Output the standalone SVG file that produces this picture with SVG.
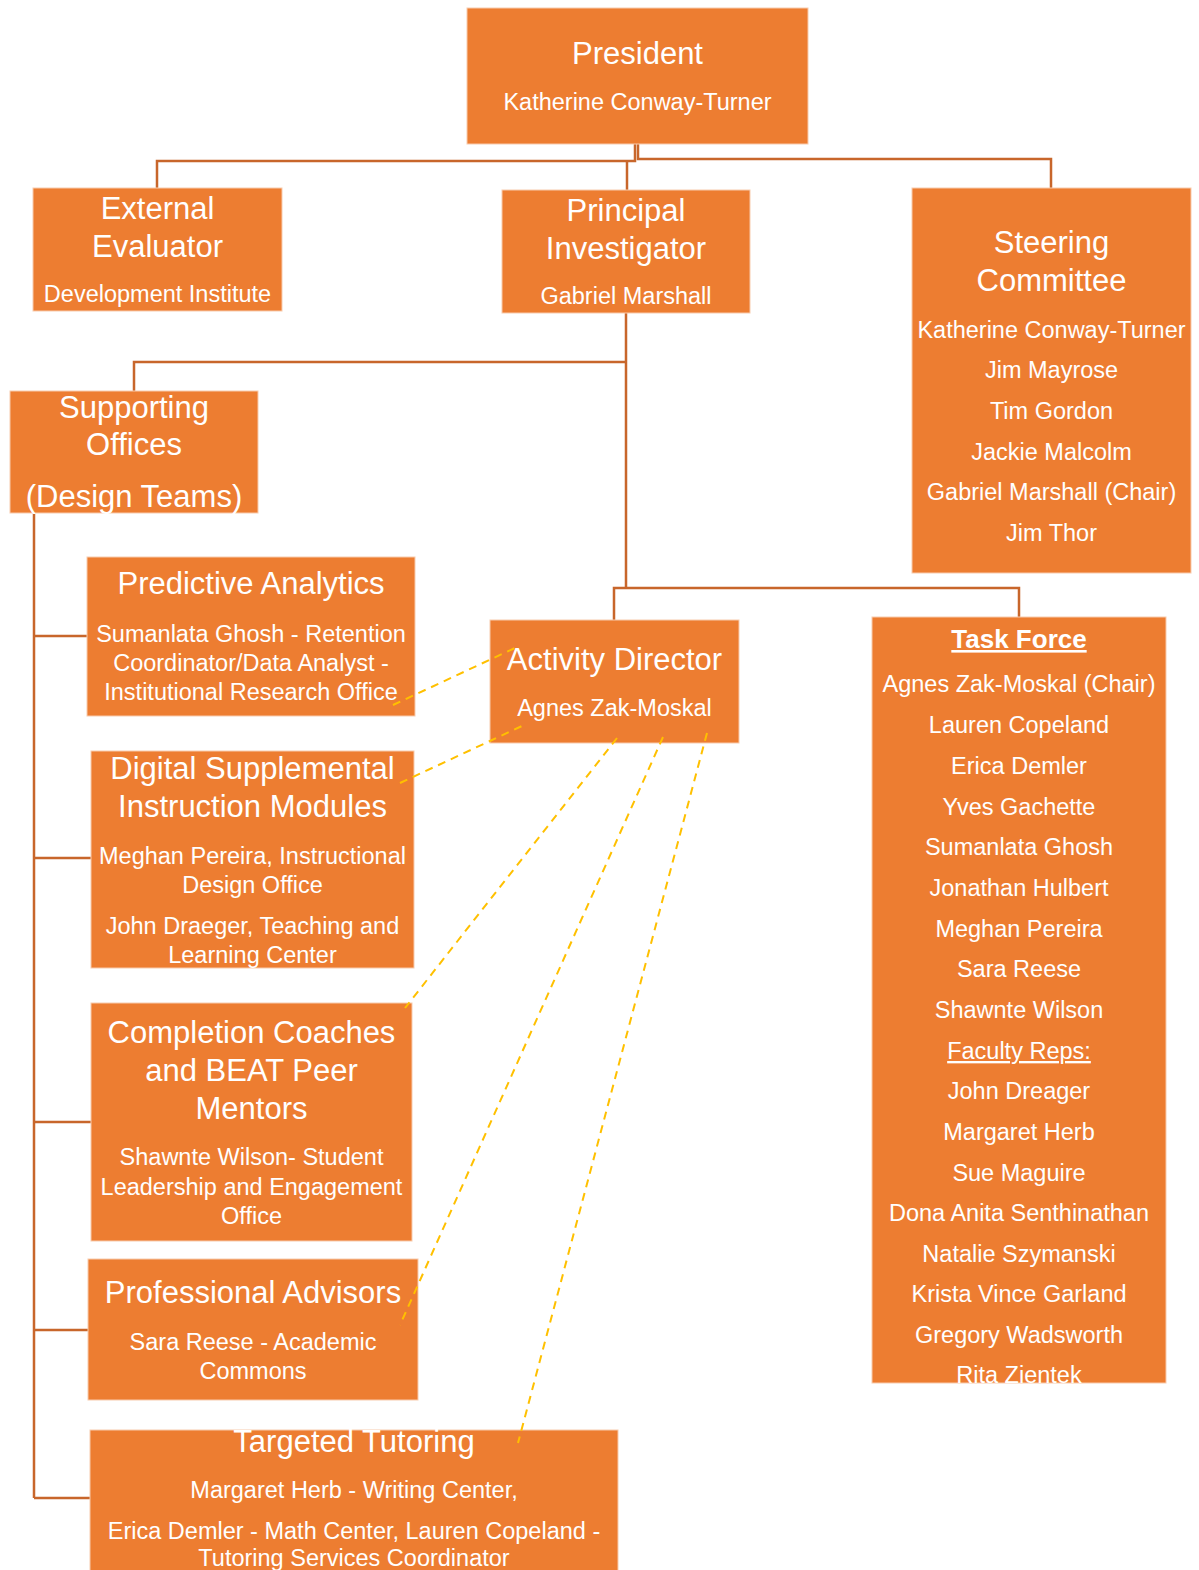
<svg xmlns="http://www.w3.org/2000/svg" width="1199" height="1570" viewBox="0 0 1199 1570">
<style>
.box{fill:#ED7D31;stroke:#F8CBAD;stroke-width:1}
.t{font-family:"Liberation Sans",Arial,sans-serif;font-size:31px;fill:#fff;text-anchor:middle}
.s{font-family:"Liberation Sans",Arial,sans-serif;font-size:23.5px;fill:#fff;text-anchor:middle}
.b{font-family:"Liberation Sans",Arial,sans-serif;font-size:26px;font-weight:bold;fill:#fff;text-anchor:middle;text-decoration:underline}
.u{text-decoration:underline}
.ln{fill:none;stroke:#C8662B;stroke-width:2.5}
.dl{fill:none;stroke:#FFC000;stroke-width:2;stroke-dasharray:8,6}
</style>
<rect width="1199" height="1570" fill="#fff"/>
<g id="connectors">
<path class="ln" d="M635,144 V161 H157 V188"/>
<path class="ln" d="M638,144 V159 H1051 V188"/>
<path class="ln" d="M627,161 V190"/>
<path class="ln" d="M626,313 V588"/>
<path class="ln" d="M626,362 H134 V391"/>
<path class="ln" d="M614,620 V588 H1019 V617"/>
<path class="ln" d="M34,513 V1498"/>
<path class="ln" d="M34,636 H87 M34,858 H91 M34,1122 H91 M34,1330 H88 M34,1498 H90"/>
</g>
<g id="president">
<rect class="box" x="467" y="8" width="341" height="136"/>
<text class="t" x="637.5" y="64">President</text>
<text class="s" x="637.5" y="110">Katherine Conway-Turner</text>
</g>
<g id="external-evaluator">
<rect class="box" x="33" y="188" width="249" height="123"/>
<text class="t" x="157.5" y="219">External</text>
<text class="t" x="157.5" y="257">Evaluator</text>
<text class="s" x="157.5" y="302">Development Institute</text>
</g>
<g id="principal-investigator">
<rect class="box" x="502" y="190" width="248" height="123"/>
<text class="t" x="626" y="221">Principal</text>
<text class="t" x="626" y="259">Investigator</text>
<text class="s" x="626" y="304">Gabriel Marshall</text>
</g>
<g id="steering-committee">
<rect class="box" x="912" y="188" width="279" height="385"/>
<text class="t" x="1051.5" y="253">Steering</text>
<text class="t" x="1051.5" y="291">Committee</text>
<text class="s" x="1051.5" y="338">Katherine Conway-Turner</text>
<text class="s" x="1051.5" y="378">Jim Mayrose</text>
<text class="s" x="1051.5" y="419">Tim Gordon</text>
<text class="s" x="1051.5" y="460">Jackie Malcolm</text>
<text class="s" x="1051.5" y="500">Gabriel Marshall (Chair)</text>
<text class="s" x="1051.5" y="541">Jim Thor</text>
</g>
<g id="supporting-offices">
<rect class="box" x="10" y="391" width="248" height="122"/>
<text class="t" x="134" y="418">Supporting</text>
<text class="t" x="134" y="455">Offices</text>
<text class="t" x="134" y="507">(Design Teams)</text>
</g>
<g id="predictive-analytics">
<rect class="box" x="87" y="557" width="328" height="159"/>
<text class="t" x="251" y="594">Predictive Analytics</text>
<text class="s" x="251" y="642">Sumanlata Ghosh - Retention</text>
<text class="s" x="251" y="671">Coordinator/Data Analyst -</text>
<text class="s" x="251" y="700">Institutional Research Office</text>
</g>
<g id="activity-director">
<rect class="box" x="490" y="620" width="249" height="123"/>
<text class="t" x="614.5" y="670">Activity Director</text>
<text class="s" x="614.5" y="716">Agnes Zak-Moskal</text>
</g>
<g id="digital-supplemental">
<rect class="box" x="91" y="751" width="323" height="217"/>
<text class="t" x="252.5" y="779">Digital Supplemental</text>
<text class="t" x="252.5" y="817">Instruction Modules</text>
<text class="s" x="252.5" y="864">Meghan Pereira, Instructional</text>
<text class="s" x="252.5" y="893">Design Office</text>
<text class="s" x="252.5" y="934">John Draeger, Teaching and</text>
<text class="s" x="252.5" y="963">Learning Center</text>
</g>
<g id="completion-coaches">
<rect class="box" x="91" y="1003" width="321" height="238"/>
<text class="t" x="251.5" y="1043">Completion Coaches</text>
<text class="t" x="251.5" y="1081">and BEAT Peer</text>
<text class="t" x="251.5" y="1119">Mentors</text>
<text class="s" x="251.5" y="1165">Shawnte Wilson- Student</text>
<text class="s" x="251.5" y="1195">Leadership and Engagement</text>
<text class="s" x="251.5" y="1224">Office</text>
</g>
<g id="professional-advisors">
<rect class="box" x="88" y="1259" width="330" height="141"/>
<text class="t" x="253" y="1303">Professional Advisors</text>
<text class="s" x="253" y="1350">Sara Reese - Academic</text>
<text class="s" x="253" y="1379">Commons</text>
</g>
<g id="targeted-tutoring">
<rect class="box" x="90" y="1430" width="528" height="145"/>
<text class="t" x="354" y="1452">Targeted Tutoring</text>
<text class="s" x="354" y="1498">Margaret Herb - Writing Center,</text>
<text class="s" x="354" y="1539">Erica Demler - Math Center, Lauren Copeland -</text>
<text class="s" x="354" y="1566">Tutoring Services Coordinator</text>
</g>
<g id="task-force">
<rect class="box" x="872" y="617" width="294" height="766"/>
<text class="b" x="1019" y="648">Task Force</text>
<text class="s" x="1019" y="692">Agnes Zak-Moskal (Chair)</text>
<text class="s" x="1019" y="733">Lauren Copeland</text>
<text class="s" x="1019" y="774">Erica Demler</text>
<text class="s" x="1019" y="815">Yves Gachette</text>
<text class="s" x="1019" y="855">Sumanlata Ghosh</text>
<text class="s" x="1019" y="896">Jonathan Hulbert</text>
<text class="s" x="1019" y="937">Meghan Pereira</text>
<text class="s" x="1019" y="977">Sara Reese</text>
<text class="s" x="1019" y="1018">Shawnte Wilson</text>
<text class="s u" x="1019" y="1059">Faculty Reps:</text>
<text class="s" x="1019" y="1099">John Dreager</text>
<text class="s" x="1019" y="1140">Margaret Herb</text>
<text class="s" x="1019" y="1181">Sue Maguire</text>
<text class="s" x="1019" y="1221">Dona Anita Senthinathan</text>
<text class="s" x="1019" y="1262">Natalie Szymanski</text>
<text class="s" x="1019" y="1302">Krista Vince Garland</text>
<text class="s" x="1019" y="1343">Gregory Wadsworth</text>
<text class="s" x="1019" y="1383">Rita Zientek</text>
</g>
<g id="dashed-connectors">
<path class="dl" d="M393,705 L515,648"/>
<path class="dl" d="M400,783 L522,726"/>
<path class="dl" d="M617,738 L405,1008"/>
<path class="dl" d="M663,737 L400,1325"/>
<path class="dl" d="M707,733 L518,1443"/>
</g>
</svg>
